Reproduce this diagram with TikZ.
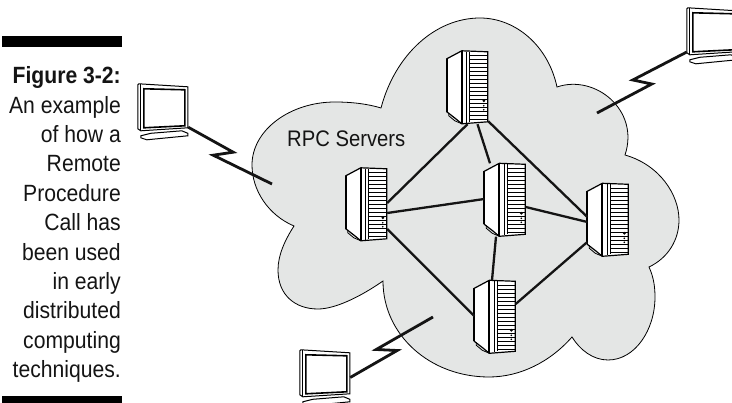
\documentclass[tikz,border=0pt]{standalone}
\usepackage{fontspec}
\setmainfont[FakeStretch=0.9]{Liberation Sans}
\usepackage{tikz}
\usetikzlibrary{positioning}
\definecolor{cloudgray}{HTML}{E4E6E5}
\definecolor{inkblack}{HTML}{141414}
\newcommand{\capfont}{\fontsize{23.5}{29.4}\selectfont}
\tikzset{
  serverbox/.style={inner sep=0pt,minimum width=41pt,minimum height=73pt},
  monitorbox/.style={inner sep=0pt,minimum width=50pt,minimum height=55pt},
  link/.style={line width=2.3pt,inkblack},
  bolt/.style={line width=2.8pt,inkblack,line join=miter},
  serverpic/.pic={
    \draw[line width=1.2pt,fill=white] (0,8) -- (15,0) -- (41,1) -- (41,71) -- (15,73)
      -- (9,68) -- (0,61) -- cycle;
    \draw[line width=1.7pt] (0,8) -- (0,61) (15,0) -- (15,73);
    \draw[line width=0.8pt] (2,62) -- (2,65) -- (8,70) -- (15,73);
    \draw[line width=1pt] (23,1) -- (23,71) (20,1) -- (20,72);
    \foreach \ypos in {5,9,...,69}
      \draw[line width=1.2pt] (23,\ypos) -- (41,\ypos);
    \fill (37,50) circle (1.5pt) (37,55) circle (0.9pt) (37,59) circle (0.9pt);
  },
  monitorpic/.pic={
    \draw[line width=1pt,fill=white] (3,52) -- (13,49.5) -- (44,47) -- (50,49.5)
      -- (50,52) -- (9,56) -- (3,54) -- cycle;
    \draw[line width=1pt,fill=white] (0,1) -- (1,0) -- (50,3) -- (50,44) -- (3,47)
      -- (0,45) -- cycle;
    \draw[line width=0.8pt] (3,0.5) -- (3,47);
    \draw[line width=1.6pt] (6,5) -- (47,6) -- (47,42) -- (6,44) -- cycle;
  }
}

\begin{document}
\begin{tikzpicture}[x=1pt,y=-1pt]
  \clip (0,0) rectangle (732,403);
  % sidebar
  \fill[black] (2,36) rectangle (122,47);
  \fill[black] (2,396) rectangle (122,403);
  \node (caption) [anchor=north east,align=right,inner sep=0pt,text=inkblack,font=\capfont]
    at (121,66.5) {\textbf{Figure 3-2:}\\An example\\of how a\\Remote\\Procedure\\Call has\\been used\\in early\\distributed\\computing\\techniques.};
  % cloud
  \draw[fill=cloudgray,line width=0.8pt]
    (381,108) .. controls (395,55) and (435,18) .. (480,18)
    .. controls (515,18) and (548,45) .. (557,87)
    .. controls (595,74) and (640,110) .. (625,155)
    .. controls (660,165) and (679,195) .. (679,220)
    .. controls (679,240) and (668,258) .. (649,267)
    .. controls (654,278) and (655,288) .. (655,297)
    .. controls (655,330) and (635,360) .. (608,360)
    .. controls (593,360) and (580,350) .. (572,337)
    .. controls (550,362) and (520,377) .. (489,377)
    .. controls (430,377) and (383,335) .. (383,281)
    .. controls (360,297) and (335,309) .. (318,309)
    .. controls (295,309) and (278,295) .. (278,270)
    .. controls (278,255) and (285,240) .. (294,226)
    .. controls (268,215) and (252,190) .. (252,165)
    .. controls (252,130) and (290,102) .. (335,102)
    .. controls (352,102) and (368,104) .. (381,108) -- cycle;
  \node (rpc) [inner sep=0pt,anchor=base west,text=inkblack,font=\fontsize{22.5}{26}\selectfont]
    at (287,147) {RPC Servers};
  % servers
  \node (srvT) [serverbox] at (467.5,87.5) {};
  \node (srvA) [serverbox] at (366.5,204.5) {};
  \node (srvC) [serverbox] at (505,200) {};
  \node (srvR) [serverbox] at (608,220) {};
  \node (srvB) [serverbox] at (495,317) {};
  \pic at (srvT.north west) {serverpic};
  \pic at (srvA.north west) {serverpic};
  \pic at (srvC.north west) {serverpic};
  \pic at (srvR.north west) {serverpic};
  \pic at (srvB.north west) {serverpic};
  % links between servers
  \path[link]
    (srvT.south) edge ([yshift=1.5pt]srvA.east)
    ([xshift=10pt]srvT.south) edge ([xshift=-15pt]srvC.north)
    ([yshift=3pt]srvT.south east) edge ([yshift=3pt]srvR.west)
    ([yshift=-8.5pt]srvA.east) edge ([yshift=1pt]srvC.west)
    ([yshift=-24.5pt]srvA.east) edge ([yshift=1pt]srvB.west)
    ([yshift=-7pt]srvC.east) edge ([yshift=-2pt]srvR.west)
    ([xshift=-9pt]srvC.south) edge ([xshift=-3pt]srvB.north)
    ([yshift=13pt]srvB.east) edge ([yshift=-22pt]srvR.west);
  % monitors
  \node (monL) [monitorbox] at (163,111.5) {};
  \node (monR) [monitorbox] at (712,35.5) {};
  \node (monB) [monitorbox] at (325,377.5) {};
  \pic at (monL.north west) {monitorpic};
  \pic at (monR.north west) {monitorpic};
  \pic at (monB.north west) {monitorpic};
  \coordinate (endL) at (272,184);
  \coordinate (endR) at (597,113);
  \coordinate (endB) at (433,317);
  \draw[bolt] ([yshift=12pt]monL.south east) -- ++(45,25) -- ++(-20,3) -- (endL);
  \draw[bolt] ([yshift=-16.5pt]monR.west) -- ++(-54,28) -- ++(19,4) -- (endR);
  \draw[bolt] (monB.east) -- ++(47,-27) -- ++(-21,-1) -- (endB);
\end{tikzpicture}
\end{document}
